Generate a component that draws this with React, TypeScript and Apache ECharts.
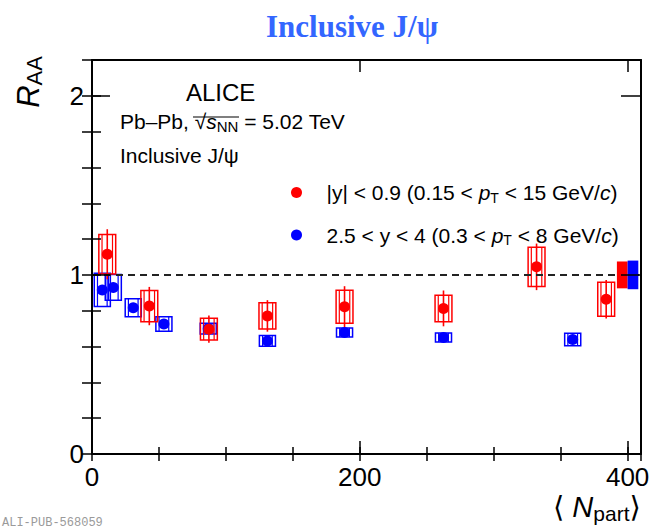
import { useEffect, useRef } from "react";
import * as echarts from "echarts";

// J/psi R_AA vs <N_part>, Pb-Pb at 5.02 TeV

// Mid-rapidity, |y| < 0.9
const npartMid = [11.4, 42.8, 87.3, 131, 188.6, 262.5, 332, 384];
const raaMid = [1.115, 0.826, 0.697, 0.771, 0.822, 0.813, 1.045, 0.864];
const statMid = [0.14, 0.107, 0.076, 0.088, 0.115, 0.1, 0.13, 0.107];
const systMid = [0.11, 0.087, 0.061, 0.073, 0.092, 0.074, 0.11, 0.095];

// Forward rapidity, 2.5 < y < 4
const npartFwd = [7.7, 15.9, 30.8, 53.7, 86.8, 131, 188.6, 262.5, 359];
const raaFwd = [0.916, 0.93, 0.817, 0.726, 0.7, 0.631, 0.678, 0.65, 0.639];
const statFwd = [0.02, 0.02, 0.015, 0.012, 0.01, 0.01, 0.01, 0.01, 0.012];
const systFwd = [0.093, 0.072, 0.05, 0.04, 0.03, 0.03, 0.025, 0.025, 0.035];

// Correlated (global) uncertainties, drawn as filled boxes at R_AA = 1
const globalMid = 0.075;
const globalFwd = 0.08;

// Tick labels
const xTickLabels = [0, 200, 400];
const yTickLabels = [0, 1, 2];

const RED = "#ff0000";
const BLUE = "#0000ff";
const FONT = '"Liberation Sans", Arial, "DejaVu Sans", sans-serif';

const boxSeries = (xs: number[], ys: number[], es: number[], half: number, color: string, z: number, extra: any = {}) => ({
  type: "custom",
  silent: true,
  clip: false,
  z,
  data: xs.map((x, i) => [x, ys[i], es[i]]),
  renderItem: (_p: any, api: any) => {
    const x = api.value(0);
    const y = api.value(1);
    const e = api.value(2);
    const a = api.coord([x - half, y + e]);
    const b = api.coord([x + half, y - e]);
    const inset = 3.2;
    return {
      type: "group",
      children: [
        { type: "rect", shape: { x: a[0], y: a[1], width: b[0] - a[0], height: b[1] - a[1] }, style: { fill: "none", stroke: color, lineWidth: 1.5 } },
        { type: "line", shape: { x1: a[0] + inset, y1: a[1], x2: a[0] + inset, y2: b[1] }, style: { stroke: color, lineWidth: 1.2 } },
        { type: "line", shape: { x1: b[0] - inset, y1: a[1], x2: b[0] - inset, y2: b[1] }, style: { stroke: color, lineWidth: 1.2 } },
      ],
    };
  },
  ...extra,
});

const statSeries = (xs: number[], ys: number[], es: number[], color: string, z: number) => ({
  type: "custom",
  silent: true,
  clip: false,
  z,
  data: xs.map((x, i) => [x, ys[i], es[i]]),
  renderItem: (_p: any, api: any) => {
    const x = api.value(0);
    const y = api.value(1);
    const e = api.value(2);
    const a = api.coord([x, y + e]);
    const b = api.coord([x, y - e]);
    return { type: "line", shape: { x1: a[0], y1: a[1], x2: b[0], y2: b[1] }, style: { stroke: color, lineWidth: 1.6 } };
  },
});

// Global uncertainty boxes sit side by side around N_part = 400
const globalSeries = {
  type: "custom",
  silent: true,
  clip: false,
  z: 6,
  data: [
    [-1, globalMid],
    [1, globalFwd],
  ],
  renderItem: (p: any, api: any) => {
    const side = api.value(0);
    const e = api.value(1);
    const span = 8;
    const x0 = side < 0 ? 400 - span : 400;
    const a = api.coord([x0, 1 + e]);
    const b = api.coord([x0 + span, 1 - e]);
    return {
      type: "rect",
      shape: { x: a[0], y: a[1], width: b[0] - a[0], height: b[1] - a[1] },
      style: { fill: p.dataIndex === 0 ? RED : BLUE },
    };
  },
};

const frameLine = { show: true, onZero: false, lineStyle: { color: "#000", width: 2 } };
const tickStyle = { color: "#000", width: 1.5 };

const xBase = { type: "value", min: 0, max: 410, splitLine: { show: false }, z: 10 };
const yBase = { type: "value", min: 0, max: 2.2, splitLine: { show: false }, z: 10 };

const richSet = (size: number, sub: number) => ({
  t: { fontFamily: FONT, fontSize: size, lineHeight: size + 4 },
  i: { fontFamily: FONT, fontSize: size, lineHeight: size + 4, fontStyle: "italic" },
  sub: { fontFamily: FONT, fontSize: sub, lineHeight: sub - 3, verticalAlign: "bottom" },
});

const legendRich = {
  t: { fontFamily: FONT, fontSize: 21, lineHeight: 24, color: "#000" },
  i: { fontFamily: FONT, fontSize: 21, lineHeight: 24, color: "#000", fontStyle: "italic" },
  sub: { fontFamily: FONT, fontSize: 14, lineHeight: 10, color: "#000", verticalAlign: "bottom" },
};

const option: any = {
  animation: false,
  backgroundColor: "#fff",
  title: {
    text: "Inclusive J/ψ",
    left: 261,
    top: 6,
    textStyle: { fontFamily: '"Liberation Serif", "Times New Roman", serif', fontWeight: "bold", fontSize: 31, color: "#3366ff" },
  },
  grid: { left: 92, right: 13, top: 60, bottom: 76, containLabel: false, outerBoundsMode: "none" },
  legend: {
    data: ["mid", "fwd"],
    orient: "vertical",
    left: 286,
    top: 177,
    itemWidth: 50,
    itemHeight: 11,
    itemGap: 20,
    icon: "circle",
    selectedMode: false,
    formatter: (name: string) =>
      name === "mid"
        ? "{t||y| < 0.9 (0.15 < }{i|p}{sub|T}{t| < 15 GeV/}{i|c}{t|)}"
        : "{t|2.5 < y < 4 (0.3 < }{i|p}{sub|T}{t| < 8 GeV/}{i|c}{t|)}",
    textStyle: { fontFamily: FONT, fontSize: 21, color: "#000", rich: legendRich },
  },
  xAxis: [
    {
      ...xBase,
      position: "bottom",
      interval: 200,
      axisLine: frameLine,
      axisTick: { inside: true, length: 13, lineStyle: tickStyle },
      axisLabel: {
        formatter: (v: number) => (xTickLabels.includes(v) ? String(v) : ""),
        fontFamily: FONT,
        fontSize: 26,
        color: "#000",
        margin: 10,
      },
    },
    { ...xBase, position: "bottom", interval: 50, axisLine: { show: false }, axisTick: { inside: true, length: 7, lineStyle: tickStyle }, axisLabel: { show: false } },
    { ...xBase, position: "top", interval: 200, axisLine: frameLine, axisTick: { inside: true, length: 12, lineStyle: tickStyle }, axisLabel: { show: false } },
    { ...xBase, position: "top", interval: 50, axisLine: { show: false }, axisTick: { inside: true, length: 7, lineStyle: tickStyle }, axisLabel: { show: false } },
  ],
  yAxis: [
    {
      ...yBase,
      position: "left",
      interval: 1,
      axisLine: frameLine,
      axisTick: { inside: true, length: 18, lineStyle: tickStyle },
      axisLabel: {
        formatter: (v: number) => (yTickLabels.includes(v) ? String(v) : ""),
        fontFamily: FONT,
        fontSize: 26,
        color: "#000",
        margin: 8,
      },
    },
    { ...yBase, position: "left", interval: 0.2, axisLine: { show: false }, axisTick: { inside: true, length: 9, lineStyle: tickStyle }, axisLabel: { show: false } },
    { ...yBase, position: "right", interval: 1, axisLine: frameLine, axisTick: { inside: true, length: 20, lineStyle: tickStyle }, axisLabel: { show: false } },
    { ...yBase, position: "right", interval: 0.2, axisLine: { show: false }, axisTick: { inside: true, length: 10, lineStyle: tickStyle }, axisLabel: { show: false } },
  ],
  series: [
    boxSeries(npartFwd, raaFwd, systFwd, 6, BLUE, 2),
    boxSeries(npartMid, raaMid, systMid, 6.3, RED, 3, {
      markLine: {
        silent: true,
        symbol: ["none", "none"],
        label: { show: false },
        lineStyle: { type: [7, 5], color: "#222", width: 2 },
        data: [{ yAxis: 1 }],
      },
    }),
    statSeries(npartFwd, raaFwd, statFwd, BLUE, 4),
    statSeries(npartMid, raaMid, statMid, RED, 4),
    globalSeries,
    { name: "fwd", type: "scatter", symbol: "circle", symbolSize: 11, z: 5, itemStyle: { color: BLUE, opacity: 1 }, data: npartFwd.map((x, i) => [x, raaFwd[i]]) },
    { name: "mid", type: "scatter", symbol: "circle", symbolSize: 11, z: 5, itemStyle: { color: RED, opacity: 1 }, data: npartMid.map((x, i) => [x, raaMid[i]]) },
  ],
  graphic: [
    { type: "text", x: 186, y: 92, style: { text: "ALICE", fontFamily: FONT, fontSize: 24, fill: "#000", align: "left", verticalAlign: "middle" } },
    {
      type: "text",
      x: 120,
      y: 121,
      style: {
        text: "{t|Pb–Pb, √}{i|s}{sub|NN}{t| = 5.02 TeV}",
        fill: "#000",
        align: "left",
        verticalAlign: "middle",
        rich: richSet(21, 15),
      },
    },
    // bar of the square-root sign, over s_NN
    { type: "line", x: 193, y: 117, shape: { x1: 0, y1: 0, x2: 46, y2: 0 }, style: { stroke: "#000", lineWidth: 1.2 } },
    { type: "text", x: 120, y: 155, style: { text: "Inclusive J/ψ", fontFamily: FONT, fontSize: 21, fill: "#000", align: "left", verticalAlign: "middle" } },
    {
      type: "text",
      x: 28,
      y: 82,
      rotation: Math.PI / 2,
      style: {
        text: "{i|R}{sub|AA}",
        fill: "#000",
        align: "center",
        verticalAlign: "middle",
        rich: richSet(31, 22),
      },
    },
    {
      type: "text",
      x: 553,
      y: 507,
      style: {
        text: "{t|⟨ }{i|N}{sub|part}{t|⟩}",
        fill: "#000",
        align: "left",
        verticalAlign: "middle",
        rich: richSet(29, 21),
      },
    },
    {
      type: "text",
      x: 2,
      y: 517,
      style: { text: "ALI-PUB-568059", fontFamily: '"Liberation Mono", "DejaVu Sans Mono", monospace', fontSize: 12, fill: "#9a9a9a", align: "left", verticalAlign: "top" },
    },
  ],
};

export default function App() {
  const ref = useRef<HTMLDivElement>(null);
  useEffect(() => {
    const chart = echarts.init(ref.current!, null, { renderer: "svg" });
    chart.setOption(option);
    return () => chart.dispose();
  }, []);
  return <div ref={ref} style={{ position: "fixed", left: 0, top: 0, width: 654, height: 530, background: "#fff" }} />;
}
